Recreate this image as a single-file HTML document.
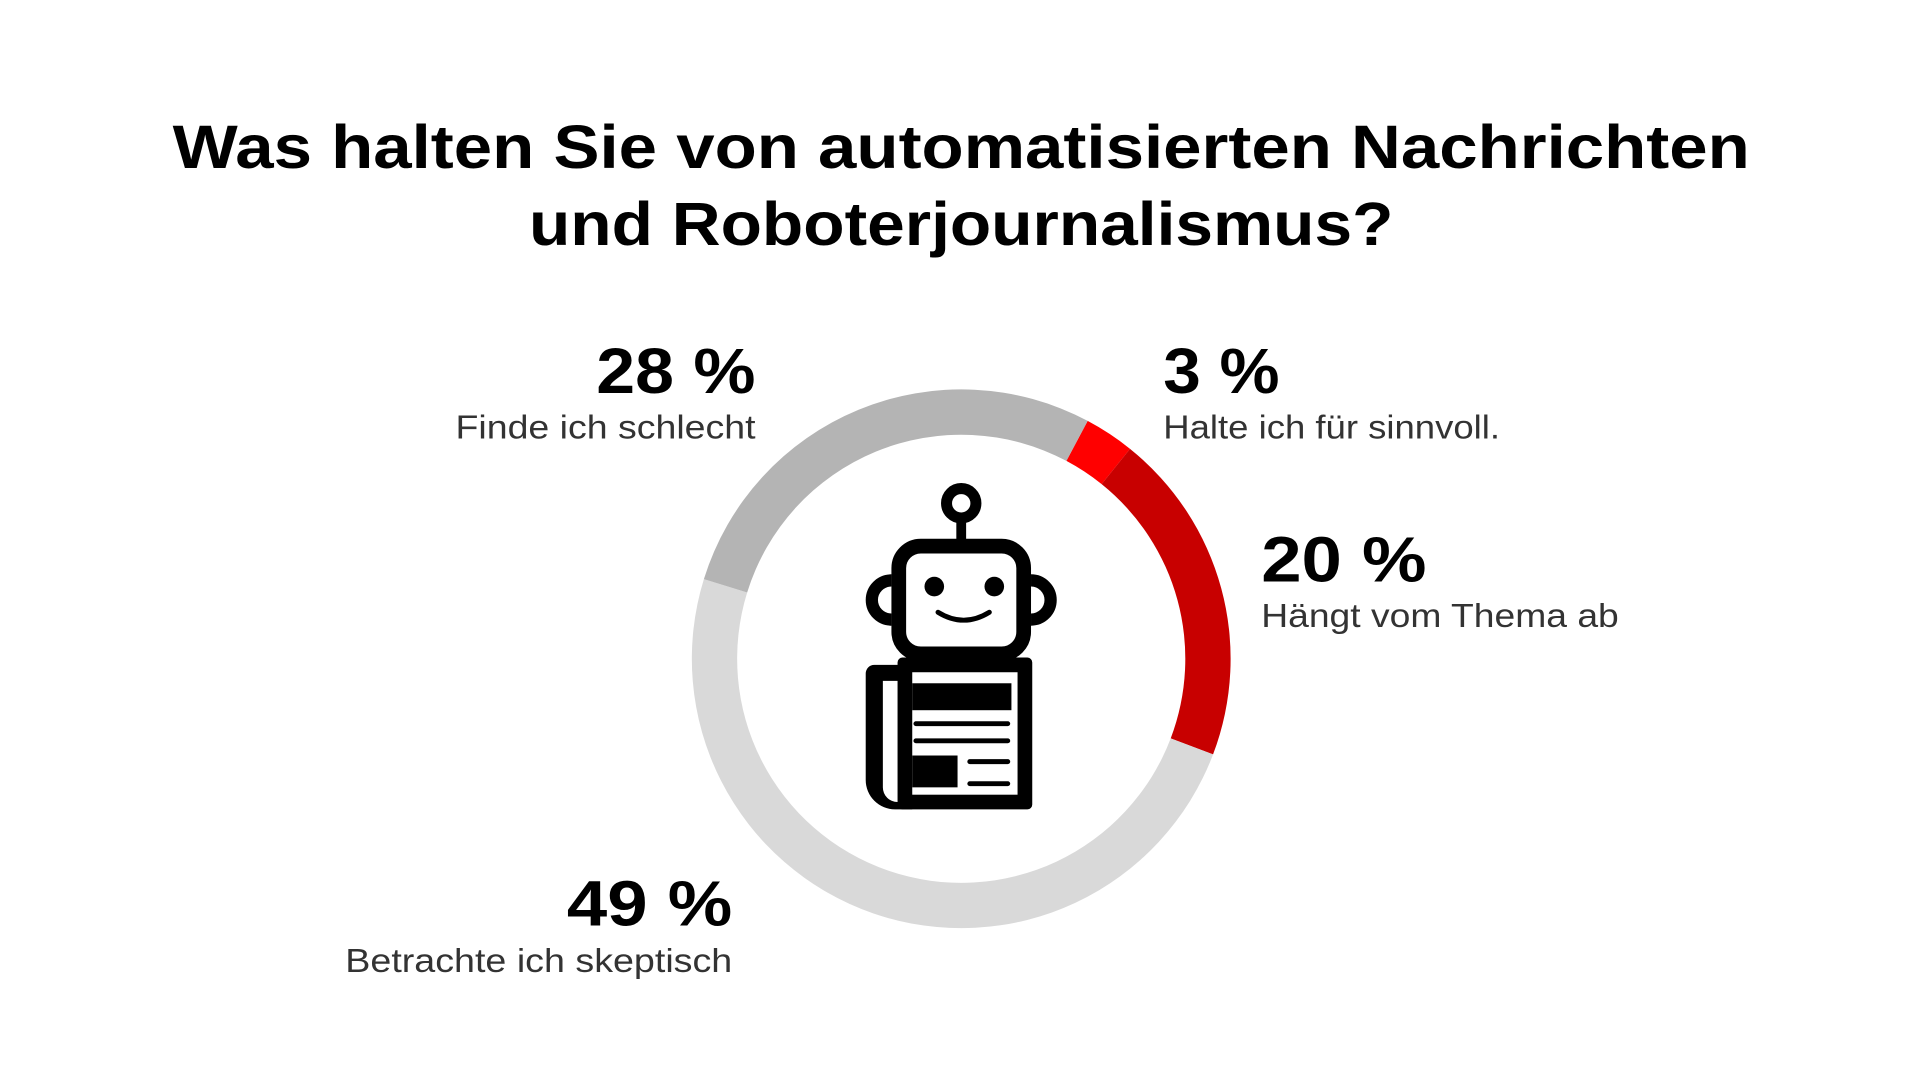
<!DOCTYPE html>
<html><head><meta charset="utf-8">
<style>
html,body{margin:0;padding:0;background:#fff;width:1920px;height:1080px;overflow:hidden}
svg{display:block}
text{font-family:"Liberation Sans",sans-serif}
</style></head>
<body>
<svg id="chart" width="1920" height="1080" viewBox="0 0 1568 882">
<rect width="1568" height="882" fill="#fff"/>
<g font-weight="bold" font-size="50" fill="#000" text-anchor="middle">
<text x="785" y="137" textLength="1288" lengthAdjust="spacingAndGlyphs">Was halten Sie von automatisierten Nachrichten</text>
<text x="785" y="200" textLength="706" lengthAdjust="spacingAndGlyphs">und Roboterjournalismus?</text>
</g>
<g id="slices"></g>
<g id="labels"></g>
<g>
<circle cx="785" cy="411" r="12" fill="none" stroke="#000" stroke-width="9"/>
<rect x="781" y="420" width="8" height="22" fill="#000"/>
<rect x="734" y="446" width="102" height="88" rx="18" fill="none" stroke="#000" stroke-width="12"/>
<path d="M728 474 A16 16 0 0 0 728 506" fill="none" stroke="#000" stroke-width="10"/>
<path d="M842 474 A16 16 0 0 1 842 506" fill="none" stroke="#000" stroke-width="10"/>
<circle cx="763" cy="479" r="8" fill="#000"/>
<circle cx="812" cy="479" r="8" fill="#000"/>
<path d="M766 500 Q787 513 808 500" fill="none" stroke="#000" stroke-width="4" stroke-linecap="round"/>
<path d="M735 543 H714 a7 7 0 0 0 -7 7 V637 a24 24 0 0 0 24 24 H745 V655 H733 a12 12 0 0 1 -12 -12 V556 H735 Z" fill="#000"/>
<rect x="733" y="537" width="110" height="124" rx="4" fill="#000"/>
<rect x="745" y="549" width="86" height="100" fill="#fff"/>
<rect x="745" y="558" width="81" height="22" fill="#000"/>
<line x1="748" y1="591" x2="823" y2="591" stroke="#000" stroke-width="4" stroke-linecap="round"/>
<line x1="748" y1="605" x2="823" y2="605" stroke="#000" stroke-width="4" stroke-linecap="round"/>
<rect x="745" y="617" width="37" height="26" fill="#000"/>
<line x1="792" y1="622" x2="823" y2="622" stroke="#000" stroke-width="4" stroke-linecap="round"/>
<line x1="792" y1="640" x2="823" y2="640" stroke="#000" stroke-width="4" stroke-linecap="round"/>
</g>
</svg>
<script>
const categories = ["Halte ich für sinnvoll.", "Hängt vom Thema ab", "Betrachte ich skeptisch", "Finde ich schlecht"];
const values = [3, 20, 49, 28];
const valueLabels = ["3 %", "20 %", "49 %", "28 %"];
const colors = ["#ff0000", "#c80000", "#d9d9d9", "#b4b4b4"];
const cx = 785, cy = 538, rOut = 220, rIn = 183, startDeg = 28;
const NS = "http://www.w3.org/2000/svg";
const total = values.reduce((a, b) => a + b, 0);
function pt(r, deg) { const a = deg * Math.PI / 180; return [cx + r * Math.sin(a), cy - r * Math.cos(a)]; }
const g = document.getElementById("slices");
let acc = startDeg;
values.forEach((v, i) => {
  const a0 = acc, a1 = acc + v / total * 360; acc = a1;
  const large = (a1 - a0) > 180 ? 1 : 0;
  const p0 = pt(rOut, a0), p1 = pt(rOut, a1), p2 = pt(rIn, a1), p3 = pt(rIn, a0);
  const p = document.createElementNS(NS, "path");
  p.setAttribute("d", `M${p0[0]} ${p0[1]} A${rOut} ${rOut} 0 ${large} 1 ${p1[0]} ${p1[1]} L${p2[0]} ${p2[1]} A${rIn} ${rIn} 0 ${large} 0 ${p3[0]} ${p3[1]} Z`);
  p.setAttribute("fill", colors[i]);
  
  
  g.appendChild(p);
});
// label layout: [x, yValue, yText, anchor, valueWidth, textWidth]
const place = [[950, 321, 358, "start", 95, 275], [1030, 475, 512, "start", 135, 292], [598, 756, 794, "end", 135, 316], [617, 321, 358, "end", 130, 245]];
const lg = document.getElementById("labels");
values.forEach((v, i) => {
  const [x, y1, y2, anc, w1, w2] = place[i];
  const t1 = document.createElementNS(NS, "text");
  t1.setAttribute("x", x); t1.setAttribute("y", y1); t1.setAttribute("text-anchor", anc);
  t1.setAttribute("font-size", "52"); t1.setAttribute("font-weight", "bold");
  t1.setAttribute("textLength", w1); t1.setAttribute("lengthAdjust", "spacingAndGlyphs");
  t1.textContent = valueLabels[i];
  
  
  lg.appendChild(t1);
  const t2 = document.createElementNS(NS, "text");
  t2.setAttribute("x", x); t2.setAttribute("y", y2); t2.setAttribute("text-anchor", anc);
  t2.setAttribute("font-size", "27"); t2.setAttribute("fill", "#333");
  t2.setAttribute("textLength", w2); t2.setAttribute("lengthAdjust", "spacingAndGlyphs");
  t2.textContent = categories[i];
  
  
  lg.appendChild(t2);
});
</script>
</body></html>
